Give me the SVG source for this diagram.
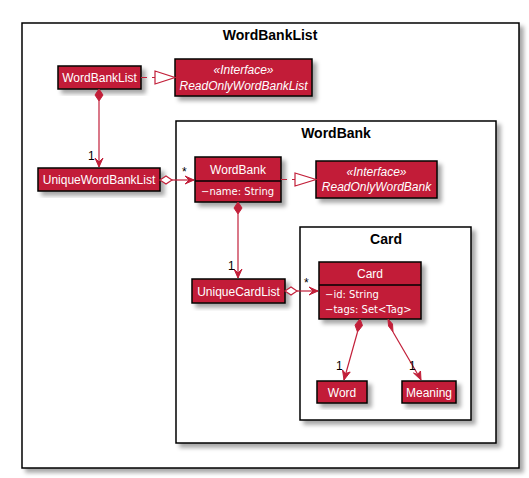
<svg xmlns="http://www.w3.org/2000/svg" width="529" height="478" viewBox="0 0 529 478">
<defs>
<filter id="sh" x="-20%" y="-20%" width="150%" height="150%">
<feDropShadow dx="4" dy="4" stdDeviation="2" flood-color="#000" flood-opacity="0.35"/>
</filter>
<style>
.pkg{fill:#fff;stroke:#000;stroke-width:1.5;filter:url(#sh)}
.cls{fill:#C21F39;stroke:#000;stroke-width:1.5;filter:url(#sh)}
.sep{stroke:#000;stroke-width:1.5}
.pt{font-family:"Liberation Sans",Arial,sans-serif;font-weight:bold;font-size:14px;fill:#000;text-anchor:middle}
.cn{font-family:"Liberation Sans",Arial,sans-serif;font-size:12px;fill:#fff;text-anchor:middle}
.it{font-style:italic}
.at{font-family:"DejaVu Sans",Verdana,sans-serif;font-size:10px;fill:#fff}
.ln{stroke:#C21F39;stroke-width:1.2;fill:none}
.dash{stroke-dasharray:6,5}
.fd{fill:#C21F39;stroke:#C21F39;stroke-width:1}
.hd{fill:#fff;stroke:#C21F39;stroke-width:1.2}
.ml{font-family:"Liberation Sans",Arial,sans-serif;font-size:12px;fill:#000}
</style>
</defs>
<rect width="529" height="478" fill="#fff"/>
<g id="pkg-WordBankList">
<rect class="pkg" x="22" y="23" width="497" height="445"/>
<text class="pt" x="270" y="40">WordBankList</text>
</g>
<g id="pkg-WordBank">
<rect class="pkg" x="176" y="121" width="320" height="322"/>
<text class="pt" x="336" y="138">WordBank</text>
</g>
<g id="pkg-Card">
<rect class="pkg" x="300" y="227" width="171" height="193"/>
<text class="pt" x="386" y="244">Card</text>
</g>
<g id="WordBankList">
<rect class="cls" x="58" y="66" width="83" height="23"/>
<text class="cn" x="99.5" y="82">WordBankList</text>
</g>
<g id="ReadOnlyWordBankList">
<rect class="cls" x="175" y="59" width="137" height="37"/>
<text class="cn it" x="243.5" y="74">«Interface»</text>
<text class="cn it" x="243.5" y="90">ReadOnlyWordBankList</text>
</g>
<g id="UniqueWordBankList">
<rect class="cls" x="38" y="168" width="122" height="23"/>
<text class="cn" x="99" y="184">UniqueWordBankList</text>
</g>
<g id="WordBank">
<rect class="cls" x="195" y="157" width="86" height="45"/>
<line class="sep" x1="195" y1="181" x2="281" y2="181"/>
<text class="cn" x="238" y="174">WordBank</text>
<text class="at" x="201" y="195">−name: String</text>
</g>
<g id="ReadOnlyWordBank">
<rect class="cls" x="316" y="161" width="121" height="37"/>
<text class="cn it" x="376.5" y="176">«Interface»</text>
<text class="cn it" x="376.5" y="191">ReadOnlyWordBank</text>
</g>
<g id="UniqueCardList">
<rect class="cls" x="192" y="279" width="93" height="24"/>
<text class="cn" x="238.5" y="295.5">UniqueCardList</text>
</g>
<g id="Card">
<rect class="cls" x="319" y="262" width="102" height="57"/>
<line class="sep" x1="319" y1="285" x2="421" y2="285"/>
<text class="cn" x="370" y="278">Card</text>
<text class="at" x="325" y="298">−id: String</text>
<text class="at" x="325" y="313">−tags: Set&lt;Tag&gt;</text>
</g>
<g id="Word">
<rect class="cls" x="317" y="381" width="50" height="22"/>
<text class="cn" x="342" y="396.5">Word</text>
</g>
<g id="Meaning">
<rect class="cls" x="402" y="381" width="54" height="22"/>
<text class="cn" x="429" y="396.5">Meaning</text>
</g>
<g id="connectors">
<!-- WordBankList realizes ReadOnlyWordBankList -->
<line class="ln dash" x1="141" y1="77.5" x2="155" y2="77.5"/>
<polygon class="hd" points="155,71 175,77.5 155,84"/>
<!-- WordBankList composes UniqueWordBankList -->
<polygon class="fd" points="99,89 103,95 99,101 95,95"/>
<line class="ln" x1="99" y1="101" x2="99" y2="167"/>
<polygon class="fd" points="99,167 95,158 99,162 103,158"/>
<text class="ml" x="88" y="160">1</text>
<!-- UniqueWordBankList aggregates WordBank -->
<polygon class="hd" points="160,180 166,176 172,180 166,184"/>
<line class="ln" x1="172" y1="180" x2="194" y2="180"/>
<polygon class="fd" points="194,180 185,176 189,180 185,184"/>
<text class="ml" x="182" y="176">*</text>
<!-- WordBank realizes ReadOnlyWordBank -->
<line class="ln dash" x1="281" y1="179.5" x2="295" y2="179.5"/>
<polygon class="hd" points="295,173 316,179.5 295,186"/>
<!-- WordBank composes UniqueCardList -->
<polygon class="fd" points="238,202 242,208 238,214 234,208"/>
<line class="ln" x1="238" y1="214" x2="238" y2="278"/>
<polygon class="fd" points="238,278 234,269 238,273 242,269"/>
<text class="ml" x="228" y="270">1</text>
<!-- UniqueCardList aggregates Card -->
<polygon class="hd" points="285,291 291,287 297,291 291,295"/>
<line class="ln" x1="297" y1="291" x2="318" y2="291"/>
<polygon class="fd" points="318,291 309,287 313,291 309,295"/>
<text class="ml" x="304" y="287">*</text>
<!-- Card composes Word -->
<polygon class="fd" points="360,319 362.5,325.5 357.5,332 355,325"/>
<line class="ln" x1="357.5" y1="332" x2="344" y2="380"/>
<polygon class="fd" points="344,380 342.5,370 345.5,373.5 350.2,372"/>
<text class="ml" x="336" y="370">1</text>
<!-- Card composes Meaning -->
<polygon class="fd" points="388,319 392.5,324 393,332 388.5,326"/>
<line class="ln" x1="393" y1="332" x2="421" y2="380"/>
<polygon class="fd" points="421,380 413.5,373 417.5,374.5 420.5,371"/>
<text class="ml" x="409" y="370">1</text>
</g>
</svg>
